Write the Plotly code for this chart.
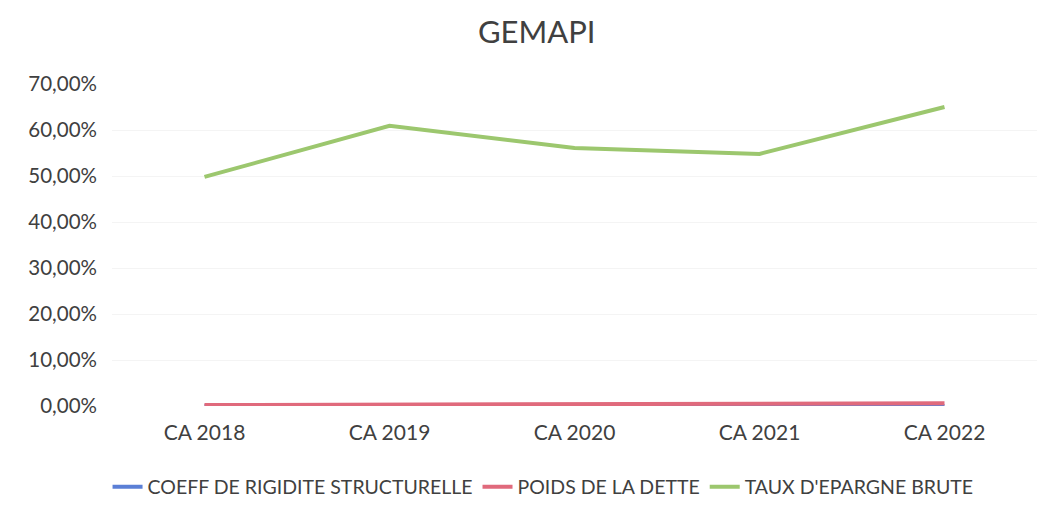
import plotly.graph_objects as go

categories = ["CA 2018", "CA 2019", "CA 2020", "CA 2021", "CA 2022"]
coeff_rigidite = [0.0, 0.0, 0.0, 0.0, 0.0]
poids_dette = [0.002, 0.003, 0.004, 0.005, 0.006]
taux_epargne = [0.498, 0.609, 0.561, 0.548, 0.650]
y_ticks = [0, 0.1, 0.2, 0.3, 0.4, 0.5, 0.6, 0.7]

FONT = "Lato, 'Open Sans', sans-serif"

fig = go.Figure()
fig.add_trace(go.Scatter(x=categories, y=coeff_rigidite, mode="lines",
                         name="COEFF DE RIGIDITE STRUCTURELLE",
                         line=dict(color="#5b7fd6", width=4)))
fig.add_trace(go.Scatter(x=categories, y=poids_dette, mode="lines",
                         name="POIDS DE LA DETTE",
                         line=dict(color="#e06a7c", width=4)))
fig.add_trace(go.Scatter(x=categories, y=taux_epargne, mode="lines",
                         name="TAUX D'EPARGNE BRUTE",
                         line=dict(color="#9cc76e", width=4)))

fig.update_layout(
    width=1047, height=509,
    paper_bgcolor="white", plot_bgcolor="white",
    separators=",.",
    font=dict(family=FONT, color="#404040", size=16),
    title=dict(text="GEMAPI", x=0.505, xanchor="center", y=0.952, yanchor="middle",
               font=dict(family=FONT, size=31, color="#404040")),
    margin=dict(l=104, r=18, t=76, b=111, autoexpand=False),
    showlegend=True,
    legend=dict(orientation="h", x=0.466, xanchor="center",
                yref="container", y=0.059, yanchor="middle",
                font=dict(family=FONT, size=19.5, color="#404040"),
                itemwidth=30, tracegroupgap=0),
    xaxis=dict(type="category", range=[-0.5, 4.5], showgrid=False, showline=False,
               zeroline=False, ticks="",
               tickfont=dict(family=FONT, size=21, color="#404040"),
               ticklabelstandoff=12),
    yaxis=dict(range=[0, 0.7], tickvals=y_ticks, tickformat=".2%",
               showgrid=True, gridcolor="#f4f4f4", zeroline=False, showline=False,
               ticks="", tickfont=dict(family=FONT, size=20.5, color="#404040"),
               ticklabelstandoff=14),
)

fig.write_html("out.html")
